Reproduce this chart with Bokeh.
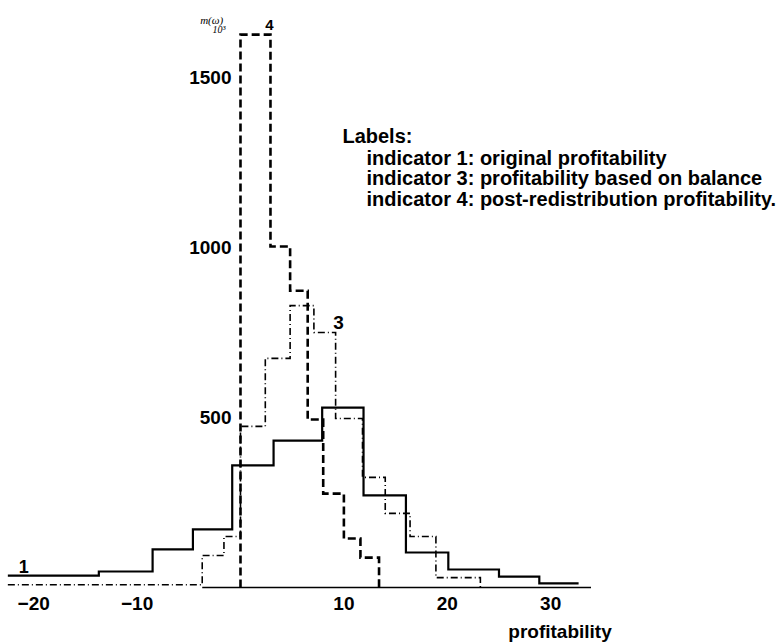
from bokeh.plotting import figure
from bokeh.embed import file_html
from bokeh.resources import INLINE
from bokeh.core.properties import value

# ---- data (heights in units of 10^3) ----
# indicator 1: original profitability (solid)
edges1 = [-22.5, -13.7, -8.5, -4.6, -0.8, 3.2, 7.9, 11.9, 16.0, 20.1, 25.0, 28.9, 32.7]
values1 = [35, 47, 112, 171, 359, 432, 529, 271, 103, 53, 32, 12]

# indicator 3: profitability based on balance (dash-dot)
edges3 = [-22.5, -3.7, -1.6, 0.0, 2.4, 4.8, 7.1, 9.2, 11.8, 14.0, 16.4, 18.9, 23.2]
values3 = [8, 94, 150, 474, 674, 829, 750, 497, 324, 218, 150, 29]

# indicator 4: post-redistribution profitability (dashed)
edges4 = [0.0, 2.9, 4.8, 6.5, 8.0, 10.0, 11.6, 13.4]
values4 = [1626, 1003, 873, 494, 276, 144, 88]

x_ticks = [-20, -10, 10, 20, 30]
x_tick_labels = ["\u221220", "\u221210", "10", "20", "30"]
y_ticks = [500, 1000, 1500]
y_tick_labels = ["500", "1000", "1500"]

legend_title = "Labels:"
legend_lines = [
    "indicator 1: original profitability",
    "indicator 3: profitability based on balance",
    "indicator 4: post-redistribution profitability.",
]
x_title = "profitability"
unit_top = "m(\u03c9)"
unit_bottom = "10\u00b3"
AXIS_END = 33.9


def step_path(edges, vals, rise=True, fall=True):
    xs, ys = [], []
    if rise:
        xs.append(edges[0]); ys.append(0)
    for i, v in enumerate(vals):
        xs += [edges[i], edges[i + 1]]
        ys += [v, v]
    if fall:
        xs.append(edges[-1]); ys.append(0)
    return xs, ys


p = figure(width=782, height=643, x_range=(-23.21, 52.42), y_range=(-164.7, 1726.5),
           x_axis_location=None, y_axis_location=None, toolbar_location=None,
           output_backend="svg", min_border=0)
p.outline_line_color = None
p.grid.visible = False
p.background_fill_color = "white"

FONT = value("Liberation Sans")

# baseline (x axis line)
p.line([edges3[1], AXIS_END], [0, 0], line_color="black", line_width=1.6)

# indicator 1
x1, y1 = step_path(edges1, values1, rise=False, fall=False)
p.line(x1, y1, line_color="black", line_width=2.2, line_join="miter")

# indicator 3
x3, y3 = step_path(edges3, values3, rise=False, fall=True)
p.line(x3, y3, line_color="black", line_width=1.6, line_dash="7 3 1 3", line_join="miter")

# indicator 4
x4, y4 = step_path(edges4, values4, rise=True, fall=True)
p.line(x4, y4, line_color="black", line_width=2.6, line_dash="8 4", line_join="miter")

# tick labels
p.text(x=[0] * len(y_ticks), y=y_ticks, text=y_tick_labels, text_align="right",
       text_baseline="middle", x_offset=-9, y_offset=0, text_font=FONT,
       text_font_style="bold", text_font_size="19px", text_color="black")
p.text(x=x_ticks, y=[0] * len(x_ticks), text=x_tick_labels, text_align="center",
       text_baseline="middle", y_offset=16, text_font=FONT,
       text_font_style="bold", text_font_size="19px", text_color="black")

# axis title
p.text(x=[25.9], y=[-129], text=[x_title], text_align="left", text_baseline="alphabetic",
       text_font=FONT, text_font_style="bold", text_font_size="19px", text_color="black")

# unit label (handwritten in original)
p.text(x=[-3.9], y=[1670], text=[unit_top], text_align="left", text_baseline="alphabetic",
       text_font=value("Liberation Serif"), text_font_style="italic", text_font_size="11px",
       text_color="black")
p.text(x=[-2.7], y=[1641], text=[unit_bottom], text_align="left", text_baseline="alphabetic",
       text_font=value("Liberation Serif"), text_font_style="italic", text_font_size="10px",
       text_color="black")

# series labels
p.text(x=[edges1[0]], y=[values1[0]], text=["1"], text_align="center", text_baseline="alphabetic",
       x_offset=16, y_offset=-9, text_font=FONT, text_font_style="bold", text_font_size="18px",
       text_color="black")
p.text(x=[edges3[7]], y=[values3[6]], text=["3"], text_align="center", text_baseline="alphabetic",
       x_offset=3, y_offset=-10, text_font=FONT, text_font_style="bold", text_font_size="19px",
       text_color="black")
p.text(x=[edges4[1]], y=[values4[0]], text=["4"], text_align="center", text_baseline="alphabetic",
       x_offset=-1, y_offset=-10, text_font=FONT, text_font_style="bold", text_font_size="15px",
       text_color="black")

# legend text
p.text(x=[9.86], y=[1329], text=[legend_title], text_align="left", text_baseline="alphabetic",
       text_font=FONT, text_font_style="bold", text_font_size="20px", text_color="black")
p.text(x=[12.19] * 3, y=[1262, 1203, 1144], text=legend_lines, text_align="left",
       text_baseline="alphabetic", text_font=FONT, text_font_style="bold",
       text_font_size="20px", text_color="black")

open("out.html", "w").write(file_html(p, INLINE))
